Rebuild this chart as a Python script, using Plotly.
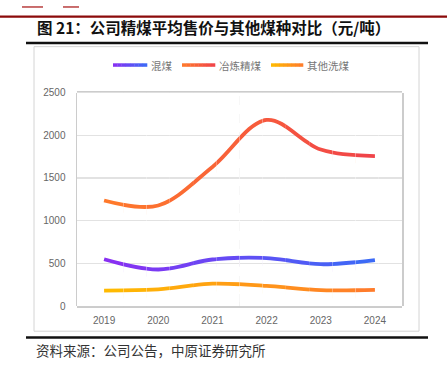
import plotly.graph_objects as go

years = ["2019", "2020", "2021", "2022", "2023", "2024"]
hunmei = [548, 428, 545, 562, 490, 537]          # 混煤
yelian = [1236, 1178, 1630, 2180, 1833, 1757]    # 冶炼精煤
qita = [181, 196, 262, 236, 186, 190]            # 其他洗煤
names = ["混煤", "冶炼精煤", "其他洗煤"]
series = [hunmei, yelian, qita]
grads = [("#8A2EF2", "#3A6CF6"), ("#FF7B2A", "#F0424A"), ("#FFBC00", "#FF7A2C")]

W, H = 447, 373
PL, PR, PT, PB = 77, 402, 89.5, 310


def px(x):
    return x / W


def py(y):
    return 1 - y / H


def hex2rgb(h):
    h = h.lstrip("#")
    return tuple(int(h[i:i + 2], 16) for i in (0, 2, 4))


def mix(c1, c2, t):
    a, b = hex2rgb(c1), hex2rgb(c2)
    return "rgb(%d,%d,%d)" % tuple(round(a[i] + (b[i] - a[i]) * t) for i in range(3))


def rgba(c, a):
    r, g, b = hex2rgb(c)
    return "rgba(%d,%d,%d,%s)" % (r, g, b, a)


fig = go.Figure()

# soft shadows under lines (on shifted y axis)
for vals, (c1, c2) in zip(series, grads):
    fig.add_trace(go.Scatter(x=years, y=vals, xaxis="x", yaxis="y2", mode="lines",
                             line=dict(shape="spline", smoothing=1.0, width=8,
                                       color=rgba(c1, 0.16)),
                             showlegend=False, hoverinfo="skip"))

# gradient lines drawn in clipped slices
K = 14
unit = (PR - PL) / 6.0
layout_axes = {}
for k in range(K):
    a = -0.5 + 6.0 * k / K
    b = -0.5 + 6.0 * (k + 1) / K
    name = "x%d" % (k + 2)
    layout_axes["xaxis%d" % (k + 2)] = dict(
        domain=[px(PL + (a + 0.5) * unit), px(PL + (b + 0.5) * unit)],
        range=[a, b], visible=False, anchor="y", fixedrange=True)
    t = min(max(((a + b) / 2) / 5.0, 0), 1)
    for vals, (c1, c2), nm in zip(series, grads, names):
        fig.add_trace(go.Scatter(x=list(range(6)), y=vals, xaxis=name, yaxis="y",
                                 mode="lines", name=nm,
                                 line=dict(shape="spline", smoothing=1.0, width=3.8,
                                           color=mix(c1, c2, t)),
                                 showlegend=False, hoverinfo="skip"))

shapes = []
annotations = []

# legend (manual, gradient glyphs)
leg = [(113, 147, 149), (182, 215, 217), (271, 303, 305)]
LY = 61
for (x0, x1, tx), nm, (c1, c2) in zip(leg, names, grads):
    n = 8
    for i in range(n):
        shapes.append(dict(type="line", xref="paper", yref="paper",
                           x0=px(x0 + (x1 - x0) * i / n), x1=px(x0 + (x1 - x0) * (i + 1) / n + 0.3),
                           y0=py(LY), y1=py(LY),
                           line=dict(color=mix(c1, c2, (i + 0.5) / n), width=3.5)))
    annotations.append(dict(text=nm, xref="paper", yref="paper", x=px(tx), y=py(LY),
                            xanchor="left", yanchor="middle", showarrow=False,
                            font=dict(family="Noto Sans CJK SC", size=10.5, color="#777")))

# decorative frame
shapes += [
    dict(type="rect", xref="paper", yref="paper", x0=px(22), x1=px(43), y0=py(0), y1=py(2),
         fillcolor="#C86A6A", line=dict(width=0)),
    dict(type="rect", xref="paper", yref="paper", x0=px(63), x1=px(79), y0=py(0), y1=py(2),
         fillcolor="#C86A6A", line=dict(width=0)),
    dict(type="rect", xref="paper", yref="paper", x0=0, x1=1, y0=py(9.8), y1=py(12.2),
         fillcolor="#8B0A0A", line=dict(width=0)),
    dict(type="rect", xref="paper", yref="paper", x0=px(26), x1=px(428), y0=py(37), y1=py(39.5),
         fillcolor="#111", line=dict(width=0)),
    dict(type="rect", xref="paper", yref="paper", x0=px(34), x1=px(419), y0=py(42), y1=py(336),
         line=dict(color="#d4d4d4", width=1)),
    dict(type="rect", xref="paper", yref="paper", x0=px(26), x1=px(428), y0=py(341.3), y1=py(343.8),
         fillcolor="#111", line=dict(width=0)),
]

annotations += [
    dict(text="<b>图 21：公司精煤平均售价与其他煤种对比（元/吨）</b>", xref="paper", yref="paper",
         x=px(35), y=py(22), xanchor="left", yanchor="middle", showarrow=False,
         font=dict(family="Noto Sans CJK SC", size=15.5, color="#111")),
    dict(text="资料来源：公司公告，中原证券研究所", xref="paper", yref="paper",
         x=px(34), y=py(355), xanchor="left", yanchor="middle", showarrow=False,
         font=dict(family="Noto Sans CJK SC", size=13.5, color="#333")),
]

fig.update_layout(
    width=W, height=H, margin=dict(l=0, r=0, t=0, b=0),
    paper_bgcolor="white", plot_bgcolor="white", showlegend=False,
    xaxis=dict(type="category", categoryorder="array", categoryarray=years,
               domain=[px(PL), px(PR)], range=[-0.5, 5.5], anchor="y",
               tickson="boundaries", showgrid=True, griddash="dash", gridcolor="#dcdcdc",
               gridwidth=1, ticks="inside", ticklen=4, tickcolor="#cccccc",
               showline=True, mirror=True, linecolor="#cccccc", linewidth=1.5,
               tickfont=dict(family="Liberation Sans", size=10, color="#666"),
               ticklabelstandoff=4, fixedrange=True),
    yaxis=dict(domain=[py(PB), py(PT)], range=[0, 2500], dtick=500, anchor="x",
               showgrid=True, gridcolor="#e2e2e2", gridwidth=1.5, zeroline=False,
               showline=True, mirror=True, linecolor="#cccccc", linewidth=1.5,
               ticks="", tickfont=dict(family="Liberation Sans", size=10, color="#666"),
               ticklabelstandoff=8, fixedrange=True),
    yaxis2=dict(domain=[py(PB + 4), py(PT + 4)], range=[0, 2500], anchor="x",
                visible=False, fixedrange=True),
    shapes=shapes, annotations=annotations,
    **layout_axes,
)

fig.write_html("out.html", config={"displayModeBar": False, "staticPlot": True},
               post_script="document.body.style.margin='0';document.body.style.overflow='hidden';")
